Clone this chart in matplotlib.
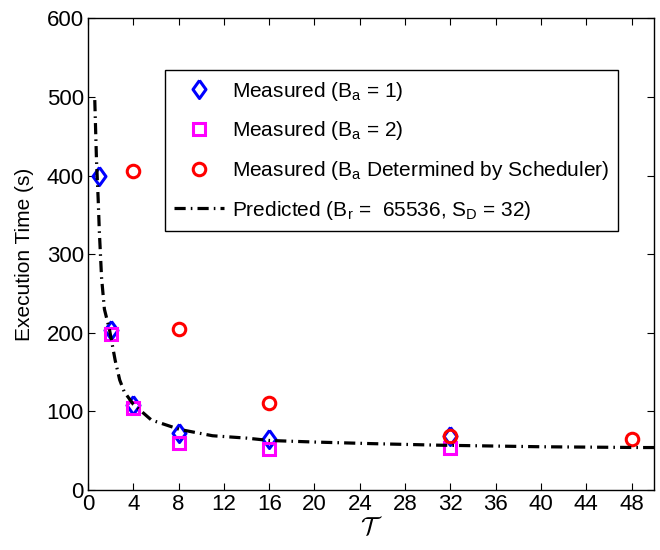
import matplotlib
matplotlib.use("Agg")
import matplotlib.pyplot as plt

plt.rcParams['font.family'] = ['Liberation Sans', 'DejaVu Sans']
plt.rcParams['mathtext.fontset'] = 'custom'
plt.rcParams['mathtext.rm'] = 'Liberation Sans'
plt.rcParams['mathtext.it'] = 'Liberation Sans:italic'

# Data
t_ba1 = [1, 2, 4, 8, 16, 32]
y_ba1 = [399, 203, 108, 72, 65, 69]
t_ba2 = [2, 4, 8, 16, 32]
y_ba2 = [199, 104, 60, 52, 54]
t_sched = [4, 8, 16, 32, 48]
y_sched = [406, 205, 111, 69, 65]
t_pred = [0.6, 0.75, 0.9, 1.0, 1.2, 1.45, 1.9, 2.4, 2.8, 3.2, 4.0, 5.6, 8.1, 11, 14, 16, 20, 25, 31, 40, 49, 50]
y_pred = [496, 420, 370, 330, 270, 230, 204, 165, 140, 125, 109, 89, 77, 69, 66, 63, 61, 59, 57, 55, 54, 54]

labels = [r'Measured (B$_\mathrm{a}$ = 1)',
          r'Measured (B$_\mathrm{a}$ = 2)',
          r'Measured (B$_\mathrm{a}$ Determined by Scheduler)',
          r'Predicted (B$_\mathrm{r}$ =  65536, S$_\mathrm{D}$ = 32)']
x_ticks = list(range(0, 49, 4))
y_ticks = list(range(0, 601, 100))

diamond = [(0, 1), (0.72, 0), (0, -1), (-0.72, 0), (0, 1)]

fig = plt.figure(figsize=(6.6, 5.5), dpi=100)
ax = fig.add_axes([0.1333, 0.1091, 0.858, 0.8576])

ax.plot(t_ba1, y_ba1, linestyle='none', marker=diamond, markersize=13,
        markerfacecolor='none', markeredgecolor='#0000ff', markeredgewidth=2.2, label=labels[0])
ax.plot(t_ba2, y_ba2, linestyle='none', marker='s', markersize=9,
        markerfacecolor='none', markeredgecolor='#ff00ff', markeredgewidth=2.2, label=labels[1])
ax.plot(t_sched, y_sched, linestyle='none', marker='o', markersize=9,
        markerfacecolor='none', markeredgecolor='#ff0000', markeredgewidth=2.2, label=labels[2])
ax.plot(t_pred, y_pred, color='black', linewidth=2.3,
        dashes=(3.5, 1.6, 0.5, 1.6), label=labels[3])

ax.set_xlim(0, 50)
ax.set_ylim(0, 600)
ax.set_xticks(x_ticks)
ax.set_yticks(y_ticks)
ax.tick_params(direction='in', top=True, right=True, labelsize=16, length=5, width=0.8, pad=3)
for s in ax.spines.values():
    s.set_linewidth(1.0)
ax.set_xlabel(r'$\mathcal{T}$', fontsize=18, math_fontfamily='cm', labelpad=0)
ax.set_ylabel('Execution Time (s)', fontsize=15, labelpad=9)

leg = ax.legend(loc='upper left', bbox_to_anchor=(0.136, 0.89), fontsize=15,
                frameon=True, fancybox=False, edgecolor='black', framealpha=1,
                handlelength=2.4, labelspacing=0.8, borderpad=0.45, handletextpad=0.35,
                borderaxespad=0)
leg.get_frame().set_linewidth(1.0)

fig.savefig('out.png', dpi=100)
